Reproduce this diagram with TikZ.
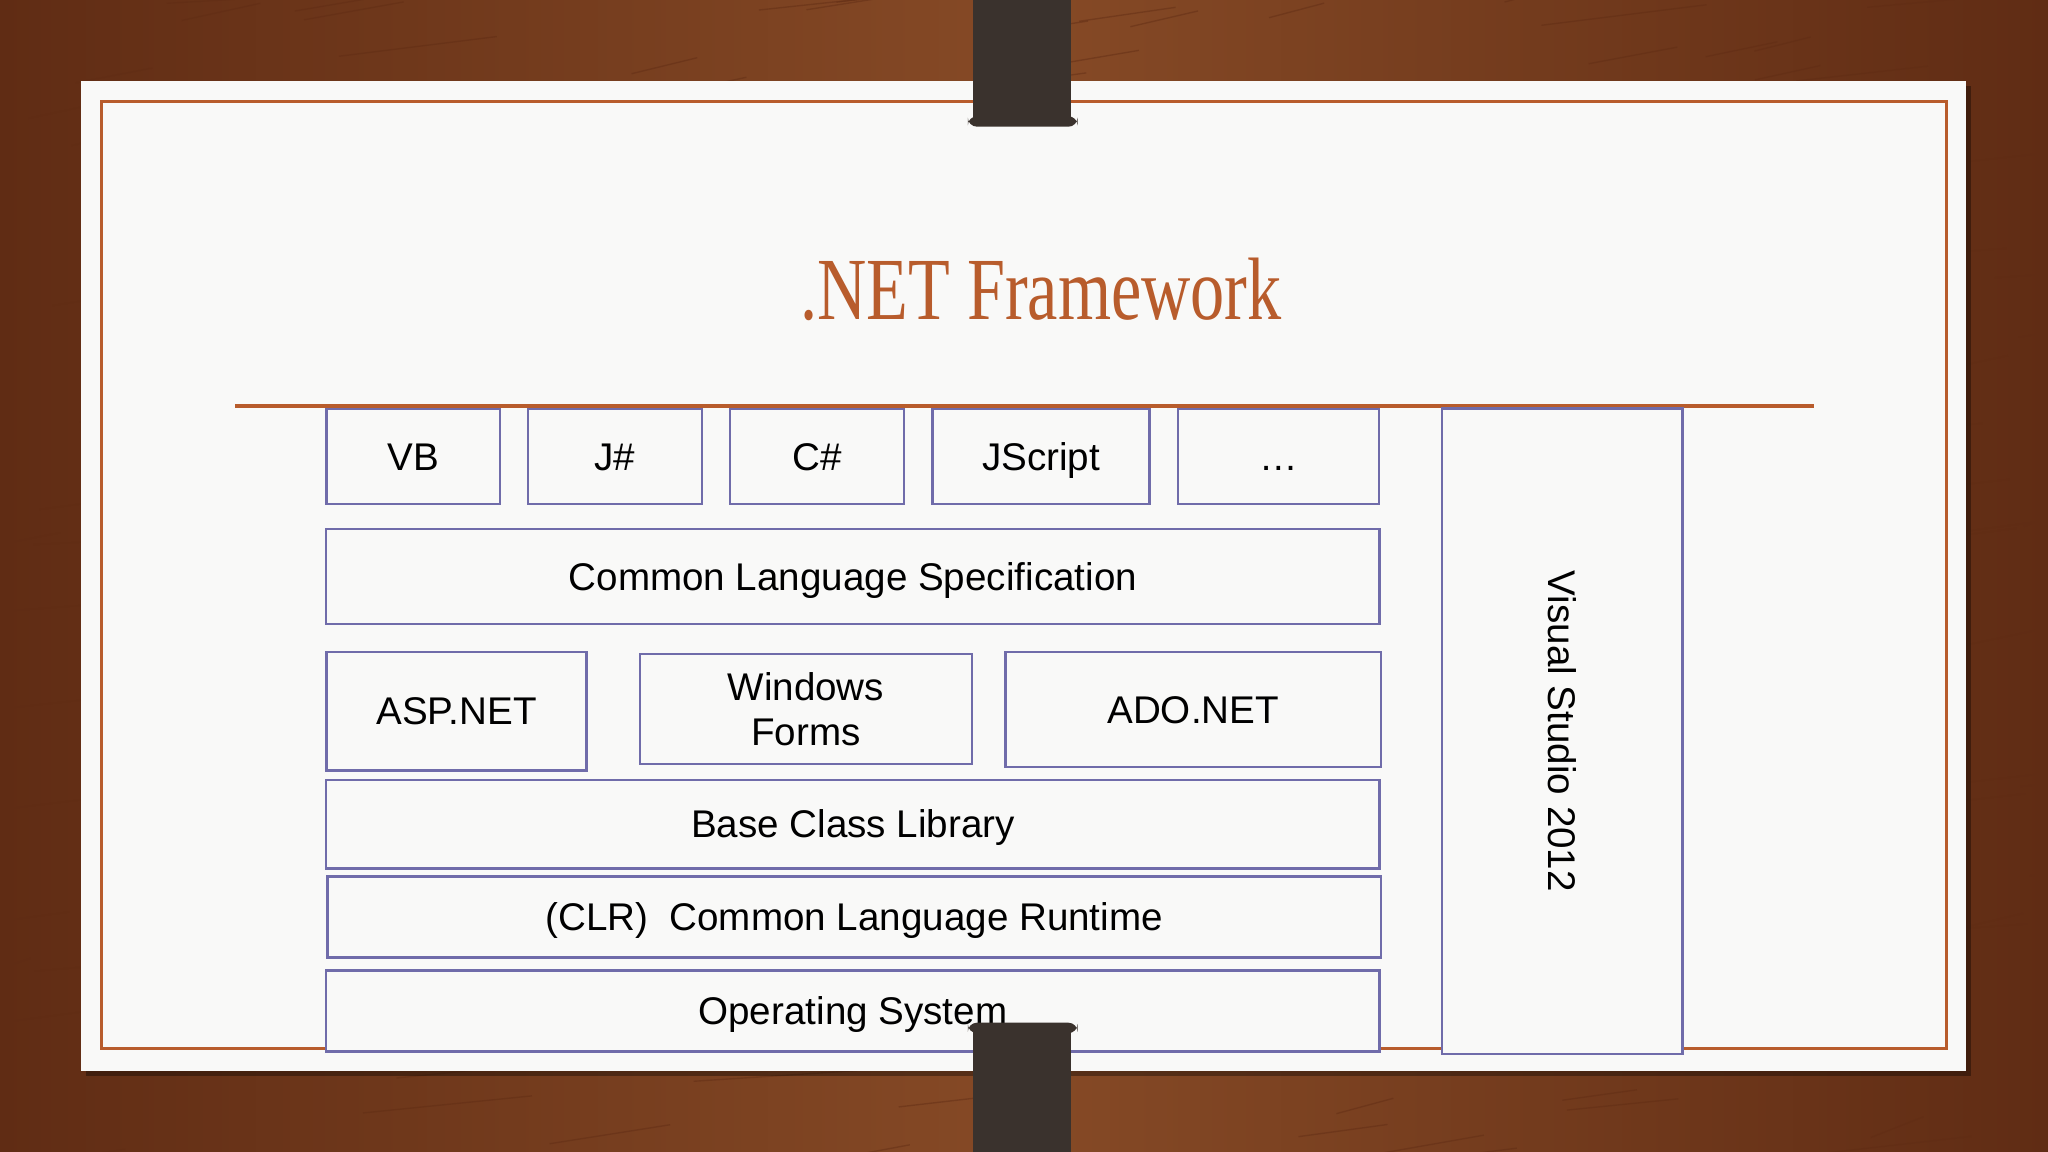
\documentclass[tikz,border=0pt]{standalone}
\usepackage{fontspec}
\setmainfont{Liberation Sans}
\newfontfamily\titlefont{Liberation Serif}
\usetikzlibrary{positioning}

\definecolor{woodmid}{RGB}{134,74,38}
\definecolor{wooddark}{RGB}{96,44,20}
\definecolor{paper}{RGB}{249,249,248}
\definecolor{rust}{RGB}{184,92,44}
\definecolor{boxline}{RGB}{112,108,170}
\definecolor{clipcol}{RGB}{58,50,45}

\tikzset{
  layer/.style={draw=boxline, line width=0.5pt, fill=paper, align=center,
    inner sep=0pt, font=\fontsize{8.4}{10}\selectfont},
  oneline/.style={layer, text height=6pt, text depth=0pt},
  langbox/.style={oneline, minimum height=0.73cm},
  wide/.style={oneline, minimum width=8.06cm},
  clipbar/.style={fill=clipcol}
}

\begin{document}
\begin{tikzpicture}[x=0.01cm, y=-0.01cm]
    \useasboundingbox (0,0) rectangle (1568,882);
    % table and paper
    \shade[left color=wooddark, right color=wooddark, middle color=woodmid]
        (0,0) rectangle (1568,882);
    \begin{scope}
    \clip (0,0) rectangle (1568,882);
    \pgfmathsetseed{11}
    \foreach \i in {1,...,220} {
        \pgfmathsetmacro\xa{rnd*1600-30}
        \pgfmathsetmacro\ya{rnd*900}
        \draw[wooddark, opacity=0.45, line width=0.3pt]
            (\xa,\ya) -- ++(40+rnd*90,-6-rnd*10);
    }
    \end{scope}
    \fill[black, opacity=0.35] (66,66) rectangle (1509,824);
    \fill[paper] (62,62) rectangle (1505,820);
    \draw[rust, line width=0.7pt] (78,78) rectangle (1490,803);

    % title
    \node[font=\titlefont\fontsize{19.3}{22}\selectfont, text=rust, anchor=base]
        (title) at (797,245) {\scalebox{0.77}[1]{.NET Framework}};
    \coordinate (ruleL) at (180,311);
    \coordinate (ruleR) at (1389,311);
    \draw[rust, line width=0.9pt] (ruleL) -- (ruleR);

    % languages
    \node[langbox, minimum width=1.33cm] (vb) at (316.5,349.5) {VB};
    \node[langbox, minimum width=1.33cm, right=0.195cm of vb] (jsharp) {J\#};
    \node[langbox, minimum width=1.33cm, right=0.2cm of jsharp] (csharp) {C\#};
    \node[langbox, minimum width=1.66cm, right=0.2cm of csharp] (jscript) {JScript};
    \node[langbox, minimum width=1.54cm, right=0.2cm of jscript] (more) {\ldots};

    % layers
    \node[wide, minimum height=0.73cm] (cls) at (653,441.5) {Common Language Specification};
    \node[oneline, minimum width=1.99cm, minimum height=0.91cm] (asp) at (349.5,544.5) {ASP.NET};
    \node[layer, minimum width=2.54cm, minimum height=0.84cm] (winforms) at (617,543) {Windows\\Forms};
    \node[oneline, minimum width=2.87cm, minimum height=0.88cm] (ado) at (913.5,543) {ADO.NET};
    \node[wide, minimum height=0.68cm] (bcl) at (653,631) {Base Class Library};
    \node[wide, minimum height=0.62cm] (clr) at (654,702) {(CLR)\ \ Common Language Runtime};
    \node[wide, minimum height=0.62cm] (os) at (653,774) {Operating System};

    % side box
    \node[layer, minimum width=1.84cm, minimum height=4.94cm] (vs) at (1196,560)
        {\rotatebox{-90}{Visual Studio 2012}};

    % clips
    \fill[clipbar] (745,0) rectangle (820,94);
    \fill[clipbar, rounded corners=2pt] (741,89) rectangle (825,97);
    \fill[clipbar] (745,786) rectangle (820,882);
    \fill[clipbar, rounded corners=2pt] (741,783) rectangle (825,791);
\end{tikzpicture}
\end{document}
